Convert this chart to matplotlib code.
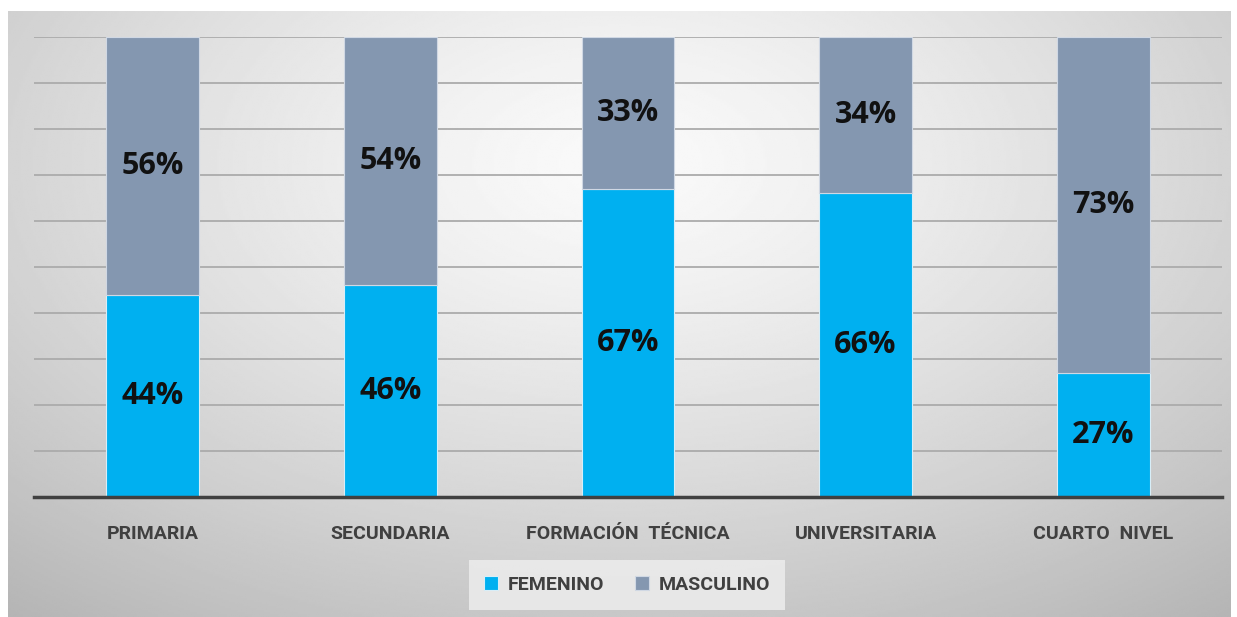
import numpy as np
import matplotlib.pyplot as plt
from matplotlib import font_manager

categories = ['PRIMARIA', 'SECUNDARIA', 'FORMACIÓN  TÉCNICA', 'UNIVERSITARIA', 'CUARTO  NIVEL']
femenino = [44, 46, 67, 66, 27]
masculino = [56, 54, 33, 34, 73]

# narrow font for category labels, if there is one
names = set(f.name for f in font_manager.fontManager.ttflist)
if 'Liberation Sans Narrow' in names:
    cat_font = dict(family='Liberation Sans Narrow', weight='bold')
    cat_size = 17
else:
    cat_font = dict(family='Roboto', stretch='condensed', weight='bold')
    cat_size = 14

fig = plt.figure(figsize=(12.37, 6.17), dpi=100)

# radial grey background
bg = fig.add_axes([8 / 1237, 0, 1223 / 1237, 606 / 617], zorder=-10)
yy, xx = np.mgrid[0:1:300j, 0:1:600j]
d = np.sqrt(((xx - 0.5) / 0.75) ** 2 + ((yy - 0.25) / 0.9) ** 2)
shade = np.clip(0.98 - 0.25 * d ** 1.3, 0, 1)
bg.imshow(shade, cmap='gray', vmin=0, vmax=1, aspect='auto', extent=[0, 1, 1, 0])
bg.axis('off')

ax = fig.add_axes([34 / 1237, 120 / 617, 1188 / 1237, 460 / 617])
ax.patch.set_alpha(0)
x = np.arange(len(categories))
w = 0.39
ax.bar(x, femenino, w, color='#00B0F0', edgecolor='#d8eef8', linewidth=0.8,
       label='FEMENINO', zorder=3)
ax.bar(x, masculino, w, bottom=femenino, color='#8497B0', edgecolor='#d0d8e4',
       linewidth=0.8, label='MASCULINO', zorder=3)

for i in range(len(categories)):
    ax.text(x[i], femenino[i] / 2, f'{femenino[i]}%', ha='center', va='center',
            fontsize=22, fontweight='bold', family='Open Sans', color='#111111', zorder=4)
    ax.text(x[i], femenino[i] + masculino[i] / 2, f'{masculino[i]}%', ha='center',
            va='center', fontsize=22, fontweight='bold', family='Open Sans',
            color='#111111', zorder=4)

ax.set_xlim(-0.5, len(categories) - 0.5)
ax.set_ylim(0, 100)
ax.set_yticks(np.arange(0, 101, 10))
ax.yaxis.grid(True, color='#ababab', linewidth=1.3, zorder=0)
ax.tick_params(axis='y', left=False, labelleft=False)
ax.tick_params(axis='x', bottom=False, pad=17)
ax.set_xticks(x)
ax.set_xticklabels(categories, fontsize=cat_size, color='#404040', **cat_font)
for s in ['top', 'right', 'left']:
    ax.spines[s].set_visible(False)
ax.spines['bottom'].set_color('#404040')
ax.spines['bottom'].set_linewidth(2.5)
ax.spines['bottom'].set_zorder(5)

leg = ax.legend(loc='center', bbox_to_anchor=(627 / 1237, 32 / 617),
                bbox_transform=fig.transFigure, ncol=2, frameon=True,
                handlelength=0.7, handleheight=0.7, handletextpad=0.5,
                columnspacing=1.6, borderpad=0.8, fancybox=False,
                prop=dict(size=cat_size, **cat_font))
leg.get_frame().set_facecolor('#ebebeb')
leg.get_frame().set_edgecolor('none')
leg.get_frame().set_alpha(0.9)
for t in leg.get_texts():
    t.set_color('#404040')

fig.savefig('out.png', dpi=100)
